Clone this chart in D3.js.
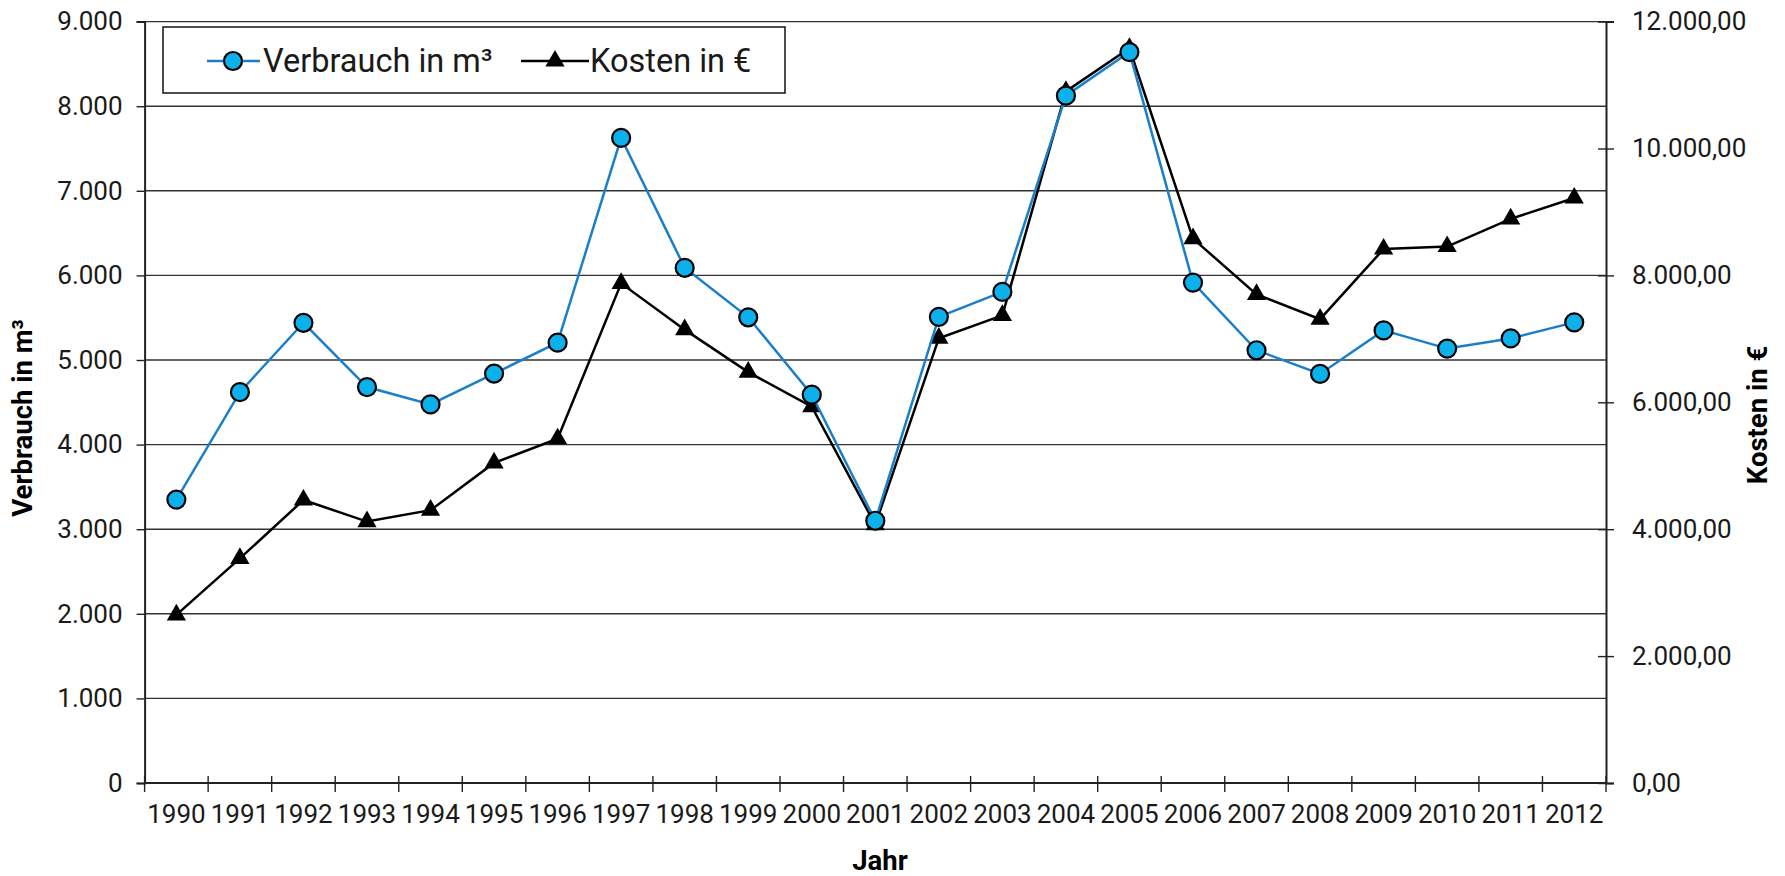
<!DOCTYPE html>
<html>
<head>
<meta charset="utf-8">
<script src="https://cdn.jsdelivr.net/npm/d3@7"></script>
<style>
  body { margin: 0; background: #fff; }
  svg { display: block; font-family: Roboto, "Liberation Sans", sans-serif; }
  .tick text { font-family: Roboto, "Liberation Sans", sans-serif; font-weight: 400; font-size: 26px; fill: #1a1a1a; }
  .title { font-weight: 700; font-size: 27.5px; fill: #000; }
</style>
</head>
<body>
<script>
// chart data
const years = ['1990','1991','1992','1993','1994','1995','1996','1997','1998','1999','2000','2001',
  '2002','2003','2004','2005','2006','2007','2008','2009','2010','2011','2012']
// Verbrauch in m³ (left axis)
const verbrauch = [3350, 4620, 5440, 4680, 4475, 4840, 5205, 7625, 6090, 5505, 4590, 3100,
  5510, 5805, 8125, 8640, 5915, 5115, 4835, 5350, 5135, 5255, 5445]
// Kosten in € (right axis)
const kosten = [2650, 3540, 4460, 4120, 4300, 5045, 5425, 7875, 7145, 6475, 5930, 4070,
  7010, 7370, 10900, 11580, 8580, 7700, 7310, 8415, 8455, 8890, 9220]
const leftTicks = [0, 1000, 2000, 3000, 4000, 5000, 6000, 7000, 8000, 9000]
const rightTicks = [0, 2000, 4000, 6000, 8000, 10000, 12000]

;(() => {
  const width = 1785, height = 876
  const pLeft = 144.6, pRight = 1606, pTop = 21.6, pBottom = 783

  const de = d3.formatLocale({ decimal: ',', thousands: '.', grouping: [3], currency: ['', '€'] })

  const svg = d3.select('body').append('svg')
    .attr('width', width)
    .attr('height', height)

  const x = d3.scaleBand().domain(years).range([pLeft, pRight])
  const yL = d3.scaleLinear().domain([0, 9000]).range([pBottom, pTop])
  const yR = d3.scaleLinear().domain([0, 12000]).range([pBottom, pTop])
  const cx = d => x(d) + x.bandwidth() / 2

  // gridlines
  svg.append('g')
    .selectAll('line')
    .data(leftTicks.slice(1))
    .enter()
    .append('line')
    .attr('x1', pLeft).attr('x2', pRight)
    .attr('y1', d => yL(d)).attr('y2', d => yL(d))
    .attr('stroke', '#333')
    .attr('stroke-width', 1.4)

  // left axis
  const axL = svg.append('g')
    .attr('transform', `translate(${pLeft},0)`)
    .call(d3.axisLeft(yL).tickValues(leftTicks).tickSize(8).tickPadding(14).tickFormat(de.format(',.0f')))
  axL.select('.domain').attr('stroke', '#222').attr('stroke-width', 2)
  axL.selectAll('.tick line').attr('stroke', '#222').attr('stroke-width', 1.4)

  // right axis
  const axR = svg.append('g')
    .attr('transform', `translate(${pRight},0)`)
    .call(d3.axisRight(yR).tickValues(rightTicks).tickSize(8).tickPadding(18).tickFormat(de.format(',.2f')))
  axR.select('.domain').attr('stroke', '#222').attr('stroke-width', 2)
  axR.selectAll('.tick line').attr('x1', -8).attr('stroke', '#222').attr('stroke-width', 1.4)

  // bottom axis: labels centred, ticks on category boundaries
  const axB = svg.append('g')
    .attr('transform', `translate(0,${pBottom})`)
    .call(d3.axisBottom(x).tickSize(0).tickPadding(22))
  axB.select('.domain').remove()
  svg.append('line')
    .attr('x1', pLeft).attr('x2', pRight)
    .attr('y1', pBottom).attr('y2', pBottom)
    .attr('stroke', '#222').attr('stroke-width', 2)
  svg.append('g')
    .selectAll('line')
    .data(years.map(d => x(d)).concat([pRight]))
    .enter()
    .append('line')
    .attr('x1', d => d).attr('x2', d => d)
    .attr('y1', pBottom - 7).attr('y2', pBottom + 9)
    .attr('stroke', '#222').attr('stroke-width', 1.4)

  // axis titles
  svg.append('text').attr('class', 'title')
    .attr('transform', 'translate(32,418) rotate(-90)')
    .attr('text-anchor', 'middle')
    .text('Verbrauch in m³')
  svg.append('text').attr('class', 'title')
    .attr('transform', 'translate(1767,415) rotate(-90)')
    .attr('text-anchor', 'middle')
    .text('Kosten in €')
  svg.append('text').attr('class', 'title')
    .attr('x', 880).attr('y', 870)
    .attr('text-anchor', 'middle')
    .text('Jahr')

  const blueLine = '#1a7fc8', blueFill = '#0cb0ea'
  const tri = d3.symbol().type(d3.symbolTriangle).size(160)

  // Kosten series
  svg.append('path')
    .datum(kosten)
    .attr('fill', 'none')
    .attr('stroke', '#000')
    .attr('stroke-width', 2.5)
    .attr('d', d3.line().x((d, i) => cx(years[i])).y(d => yR(d)))
  svg.append('g')
    .selectAll('path')
    .data(kosten)
    .enter()
    .append('path')
    .attr('d', tri)
    .attr('transform', (d, i) => `translate(${cx(years[i])},${yR(d)})`)
    .attr('fill', '#000')

  // Verbrauch series
  svg.append('path')
    .datum(verbrauch)
    .attr('fill', 'none')
    .attr('stroke', blueLine)
    .attr('stroke-width', 2.5)
    .attr('d', d3.line().x((d, i) => cx(years[i])).y(d => yL(d)))
  svg.append('g')
    .selectAll('circle')
    .data(verbrauch)
    .enter()
    .append('circle')
    .attr('cx', (d, i) => cx(years[i]))
    .attr('cy', d => yL(d))
    .attr('r', 9)
    .attr('fill', blueFill)
    .attr('stroke', '#000')
    .attr('stroke-width', 2.2)

  // legend
  const lg = svg.append('g')
  lg.append('rect')
    .attr('x', 163).attr('y', 27).attr('width', 622).attr('height', 66)
    .attr('fill', '#fff').attr('stroke', '#111').attr('stroke-width', 1.5)
  lg.append('line').attr('x1', 207).attr('x2', 260).attr('y1', 61).attr('y2', 61)
    .attr('stroke', blueLine).attr('stroke-width', 2.5)
  lg.append('circle').attr('cx', 233).attr('cy', 61).attr('r', 9)
    .attr('fill', blueFill).attr('stroke', '#000').attr('stroke-width', 2.2)
  lg.append('text').attr('x', 263).attr('y', 72)
    .style('font-size', '32.5px').style('font-weight', 400).attr('fill', '#1a1a1a')
    .text('Verbrauch in m³')
  lg.append('line').attr('x1', 521).attr('x2', 589).attr('y1', 61).attr('y2', 61)
    .attr('stroke', '#000').attr('stroke-width', 2.5)
  lg.append('path').attr('d', tri).attr('transform', 'translate(555,61)').attr('fill', '#000')
  lg.append('text').attr('x', 590).attr('y', 72)
    .style('font-size', '32.5px').style('font-weight', 400).attr('fill', '#1a1a1a')
    .text('Kosten in €')
})()
</script>
</body>
</html>
